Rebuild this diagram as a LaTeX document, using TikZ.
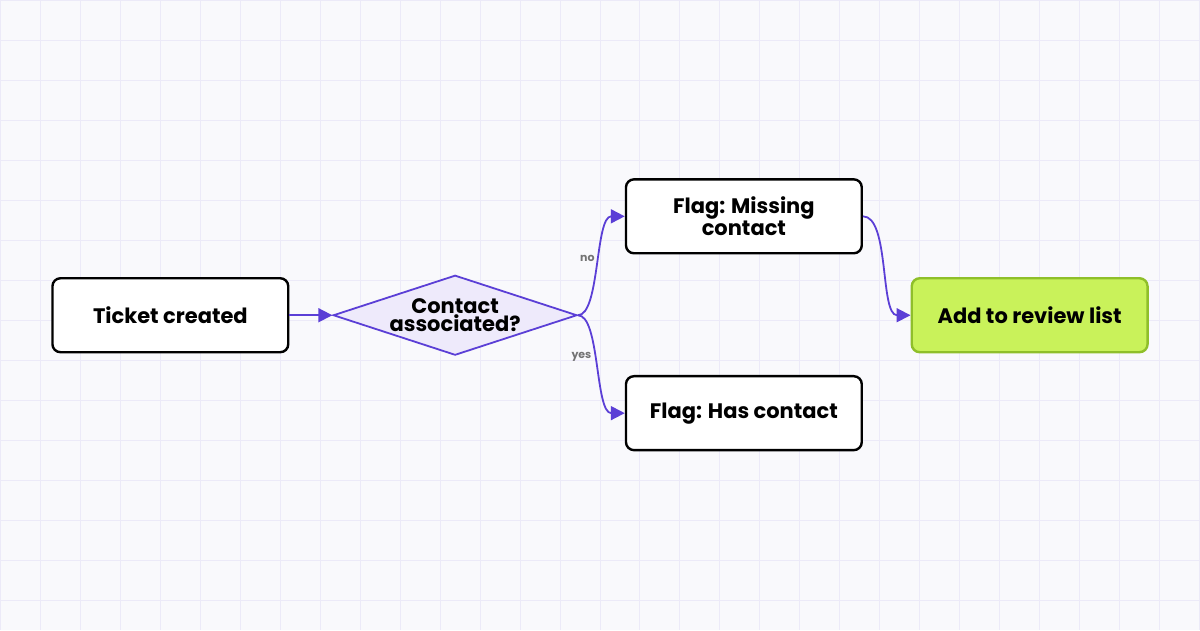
\documentclass[tikz,border=0pt]{standalone}
\usepackage{fontspec}
\setmainfont{Poppins}
\usetikzlibrary{shapes.geometric, arrows.meta}
\definecolor{flowpurple}{HTML}{5B3FD6}
\definecolor{gridline}{HTML}{ECEAF8}
\definecolor{bgpaper}{HTML}{F9F9FC}
\definecolor{diamondfill}{HTML}{EEEAFB}
\definecolor{limefill}{HTML}{C9F25A}
\definecolor{limeborder}{HTML}{8FBF2A}
\tikzset{
  step box/.style={draw=black, line width=1.2pt, rounded corners=4pt, fill=white,
    minimum width=118pt, minimum height=37pt, align=center,
    font=\fontsize{10.5}{9}\selectfont\bfseries},
  decision/.style={diamond, draw=flowpurple, line width=0.9pt, fill=diamondfill, aspect=3,
    minimum width=122pt, minimum height=40pt, inner sep=0pt, align=center,
    font=\fontsize{10.5}{9}\selectfont\bfseries},
  flow/.style={draw=flowpurple, line width=0.9pt, -{Triangle[length=7pt,width=7pt]}},
  edge label/.style={font=\fontsize{5.5}{6}\selectfont\bfseries, text=gray!90!black}
}
\begin{document}
\begin{tikzpicture}[x=0.5pt, y=-0.5pt]
  % paper and grid
  \fill[bgpaper] (0,0) rectangle (1200,630);
  \foreach \gx in {0,40,...,1200} \draw[gridline, line width=0.5pt] (\gx,0) -- (\gx,630);
  \foreach \gy in {0,40,...,630} \draw[gridline, line width=0.5pt] (0,\gy) -- (1200,\gy);
  \useasboundingbox (0,0) rectangle (1200,630);
  % nodes
  \node[step box] (created) at (170,315) {Ticket created};
  \node[decision] (assoc) at (455,315) {Contact\\associated?};
  \node[step box] (missing) at (744,216) {Flag: Missing\\contact};
  \node[step box] (has) at (744,413) {Flag: Has contact};
  \node[step box, fill=limefill, draw=limeborder] (review) at (1030,315) {Add to review list};
  % connectors
  \draw[flow] (created) -- (assoc);
  \draw[flow] (assoc.east) .. controls (600,315) and (595,216) .. node[edge label, pos=0.55, left=-1pt] {no} (missing.west);
  \draw[flow] (assoc.east) .. controls (600,315) and (595,413) .. node[edge label, pos=0.45, left=-1pt] {yes} (has.west);
  \draw[flow] (missing.east) .. controls (890,216) and (880,315) .. (review.west);
\end{tikzpicture}
\end{document}
